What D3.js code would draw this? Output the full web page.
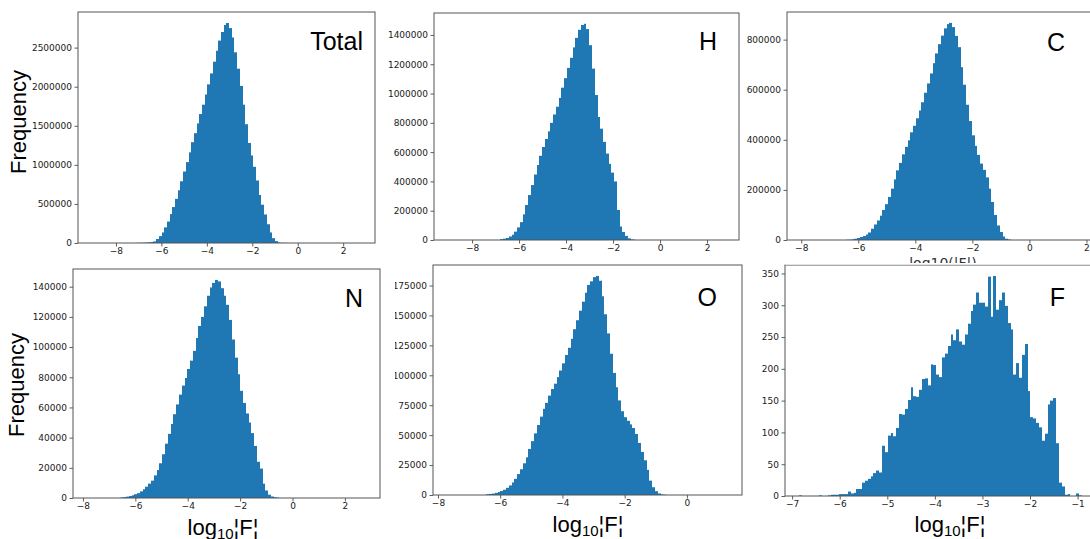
<!DOCTYPE html>
<html>
<head>
<meta charset="utf-8">
<script src="https://cdn.jsdelivr.net/npm/d3@7"></script>
<style>
  body { margin: 0; background: #fff; }
  svg { display: block; }
</style>
</head>
<body>
<svg id="chart" width="1090" height="539"></svg>
<script>
// histogram counts per element, bins start at *BinStart with *BinWidth
const totalBinStart = -7.18, totalBinWidth = 0.1188;
const totalCounts = [1000,2000,3000,4000,6000,9000,13000,20000,52000,88000,135000,200000,275000,370000,460000,565000,675000,790000,915000,1035000,1160000,1290000,1405000,1530000,1650000,1770000,1900000,2030000,2170000,2320000,2460000,2590000,2700000,2790000,2815000,2750000,2630000,2440000,2230000,2010000,1770000,1520000,1280000,1120000,975000,800000,615000,490000,365000,240000,135000,62000,24000,8000,3000,1500,1000];

const hBinStart = -6.79, hBinWidth = 0.118;
const hCounts = [6000,9000,14000,24000,36000,57000,86000,122000,175000,239000,307000,375000,447000,512000,575000,635000,690000,742000,800000,857000,910000,970000,1040000,1105000,1175000,1244000,1315000,1380000,1435000,1468000,1476000,1440000,1330000,1170000,990000,840000,760000,670000,590000,520000,460000,400000,205000,92000,55000,28000,11000,4000,1500];

const cBinStart = -6.43, cBinWidth = 0.098;
const cCounts = [1000,1500,3000,5000,8000,12000,16000,22000,30000,45000,62000,78000,97000,120000,143000,172000,205000,242000,278000,308000,342000,372000,398000,430000,456000,486000,517000,550000,588000,625000,665000,706000,745000,782000,816000,845000,862000,867000,850000,815000,770000,690000,620000,540000,475000,418000,376000,340000,305000,280000,250000,205000,152000,100000,58000,32000,14000,5000,2000];

const nBinStart = -6.572, nBinWidth = 0.1065;
const nCounts = [300,600,900,1300,1800,2500,3200,4400,5800,7500,9500,11500,15000,18500,23000,29000,36000,42500,49000,55500,62000,68500,74500,79500,85500,91000,97500,106000,114000,120000,127000,134000,139500,142500,144500,143500,139000,134000,128000,118000,105000,93000,82000,71000,63000,56000,50000,43000,34500,24000,19500,9500,5000,2200,1000,500,300];

const oBinStart = -6.446, oBinWidth = 0.0903;
const oCounts = [600,900,1200,1800,2500,3300,4400,6000,8000,10500,13500,17500,21500,26500,31500,38500,45000,51500,58500,65500,72000,77000,83000,88500,93000,98500,104000,110000,117000,123000,130500,138500,146000,154000,161500,169000,175500,178500,182000,183000,179000,166000,151000,135000,118000,102000,90000,79000,70000,65000,62000,59000,56000,51000,43500,36000,29000,21000,12000,6500,3200,1300,600,300];

const fBinStart = -6.85, fBinWidth = 0.06;
const fCounts = [1,0,0,0,0,0,0,1,0,0, 1,2,2,2,3,3,3,7,4,5, 11,11,21,24,27,31,36,40,37,79, 69,95,99,94,107,129,128,137,151,171, 157,156,167,184,185,174,207,206,191,187, 218,224,236,254,245,262,243,238,254,271, 291,301,320,304,304,298,345,282,346,293, 308,320,299,272,262,191,209,186,222,239, 165,124,122,115,108,87,98,144,150,154, 83,21,15,2,3,0,0,4,1,0];

// tick labels
const wideXTicks = [-8, -6, -4, -2, 0, 2];
const oXTicks = [-8, -6, -4, -2, 0];
const fXTicks = [-7, -6, -5, -4, -3, -2, -1];
const totalYTicks = [0, 500000, 1000000, 1500000, 2000000, 2500000];
const hYTicks = [0, 200000, 400000, 600000, 800000, 1000000, 1200000, 1400000];
const cYTicks = [0, 200000, 400000, 600000, 800000];
const nYTicks = [0, 20000, 40000, 60000, 80000, 100000, 120000, 140000];
const oYTicks = [0, 25000, 50000, 75000, 100000, 125000, 150000, 175000];
const fYTicks = [0, 50, 100, 150, 200, 250, 300, 350];

const panels = [
    { id: 'total', title: 'Total', counts: totalCounts, start: totalBinStart, width: totalBinWidth,
      xDomain: [-9.67, 3.4], xTicks: wideXTicks, yTicks: totalYTicks,
      box: { left: 78, right: 375, top: 12, bottom: 243 }, clip: [0, 0, 380, 256], titleAt: [363, 50] },
    { id: 'h', title: 'H', counts: hCounts, start: hBinStart, width: hBinWidth,
      xDomain: [-9.62, 3.36], xTicks: wideXTicks, yTicks: hYTicks,
      box: { left: 434, right: 739, top: 13, bottom: 240 }, clip: [380, 0, 362, 256], titleAt: [717, 50] },
    { id: 'c', title: 'C', counts: cCounts, start: cBinStart, width: cBinWidth,
      xDomain: [-8.5, 2.3], xTicks: wideXTicks, yTicks: cYTicks,
      box: { left: 787, right: 1095, top: 12, bottom: 240 }, clip: [742, 0, 348, 262], titleAt: [1065, 51] },
    { id: 'n', title: 'N', counts: nCounts, start: nBinStart, width: nBinWidth,
      xDomain: [-8.38, 3.34], xTicks: wideXTicks, yTicks: nYTicks,
      box: { left: 73, right: 380, top: 269, bottom: 498 }, clip: [0, 262, 385, 277], titleAt: [363, 307] },
    { id: 'o', title: 'O', counts: oCounts, start: oBinStart, width: oBinWidth,
      xDomain: [-8.16, 1.77], xTicks: oXTicks, yTicks: oYTicks,
      box: { left: 433, right: 742, top: 265, bottom: 495 }, clip: [395, 262, 355, 277], titleAt: [717, 306] },
    { id: 'f', title: 'F', counts: fCounts, start: fBinStart, width: fBinWidth,
      xDomain: [-7.15, -0.55], xTicks: fXTicks, yTicks: fYTicks,
      box: { left: 785, right: 1099, top: 265, bottom: 496 }, clip: [750, 262, 340, 277], titleAt: [1065, 306] }
];

const svg = d3.select('#chart');
const defs = svg.append('defs');
const barColor = '#1f77b4';
const tickFont = 'DejaVu Sans, sans-serif';
const labelFont = 'Liberation Sans, Arial, sans-serif';

function minusFormat(d) {
    return d < 0 ? '\u2212' + Math.abs(d) : String(d);
}

function drawPanel(p) {
    defs.append('clipPath').attr('id', p.id + '-clip')
        .append('rect')
        .attr('x', p.clip[0]).attr('y', p.clip[1])
        .attr('width', p.clip[2]).attr('height', p.clip[3]);

    let g = svg.append('g').attr('clip-path', 'url(#' + p.id + '-clip)');

    let x = d3.scaleLinear().domain(p.xDomain).range([p.box.left, p.box.right]);
    let y = d3.scaleLinear().domain([0, d3.max(p.counts) * 1.05]).range([p.box.bottom, p.box.top]);

    let bins = p.counts.map((c, i) => ({ x0: p.start + i * p.width, x1: p.start + (i + 1) * p.width, c: c }))
        .filter(d => d.c > 0);

    // whole-pixel edges so neighbouring bars tile without seams
    g.append('g')
        .selectAll('rect')
        .data(bins)
        .join('rect')
        .attr('x', d => Math.round(x(d.x0)))
        .attr('width', d => Math.round(x(d.x1)) - Math.round(x(d.x0)))
        .attr('y', d => y(d.c))
        .attr('height', d => y(0) - y(d.c))
        .attr('fill', barColor);

    let xAxis = d3.axisBottom(x).tickValues(p.xTicks).tickSize(3.5).tickPadding(1.5).tickFormat(minusFormat);
    let yAxis = d3.axisLeft(y).tickValues(p.yTicks).tickSize(3.5).tickPadding(2.5).tickFormat(d3.format('d'));

    let gx = g.append('g').attr('transform', 'translate(0,' + p.box.bottom + ')').call(xAxis);
    let gy = g.append('g').attr('transform', 'translate(' + p.box.left + ',0)').call(yAxis);

    [gx, gy].forEach(a => {
        a.select('.domain').remove();
        a.attr('font-family', tickFont).attr('font-size', 9);
        a.selectAll('line').attr('stroke', '#333').attr('stroke-width', 0.8);
        a.selectAll('text').attr('fill', '#1a1a1a');
    });

    g.append('rect')
        .attr('x', p.box.left).attr('y', p.box.top)
        .attr('width', p.box.right - p.box.left).attr('height', p.box.bottom - p.box.top)
        .attr('fill', 'none')
        .attr('stroke', '#555')
        .attr('stroke-width', 1);

    g.append('text')
        .attr('x', p.titleAt[0]).attr('y', p.titleAt[1])
        .attr('text-anchor', 'end')
        .attr('font-family', labelFont)
        .attr('font-size', 25)
        .attr('fill', '#000')
        .text(p.title);
}

panels.forEach(drawPanel);

// y labels
[[26, 122], [24, 385]].forEach(pos => {
    svg.append('text')
        .attr('transform', 'translate(' + pos[0] + ',' + pos[1] + ') rotate(-90)')
        .attr('text-anchor', 'middle')
        .attr('font-family', labelFont)
        .attr('font-size', 22)
        .attr('fill', '#000')
        .text('Frequency');
});

// x labels under the bottom row
[[223, 535], [588, 532], [950, 532]].forEach(pos => {
    let t = svg.append('text')
        .attr('x', pos[0]).attr('y', pos[1])
        .attr('text-anchor', 'middle')
        .attr('font-family', labelFont)
        .attr('font-size', 22)
        .attr('fill', '#000');
    t.append('tspan').text('log');
    t.append('tspan').attr('font-size', 15).attr('dy', 4).text('10');
    t.append('tspan').attr('dy', -4).text('\u00a6F\u00a6');
});

// cropped x label of the C panel, only a strip of it survives
defs.append('clipPath').attr('id', 'strip-clip')
    .append('rect').attr('x', 860).attr('y', 255).attr('width', 150).attr('height', 8);
svg.append('text')
    .attr('clip-path', 'url(#strip-clip)')
    .attr('x', 943).attr('y', 268)
    .attr('text-anchor', 'middle')
    .attr('font-family', tickFont)
    .attr('font-size', 14)
    .attr('fill', '#333')
    .text('log10(|F|)');

svg.append('line')
    .attr('x1', 785).attr('x2', 1090).attr('y1', 264.5).attr('y2', 264.5)
    .attr('stroke', '#e2e2e2');
</script>
</body>
</html>
